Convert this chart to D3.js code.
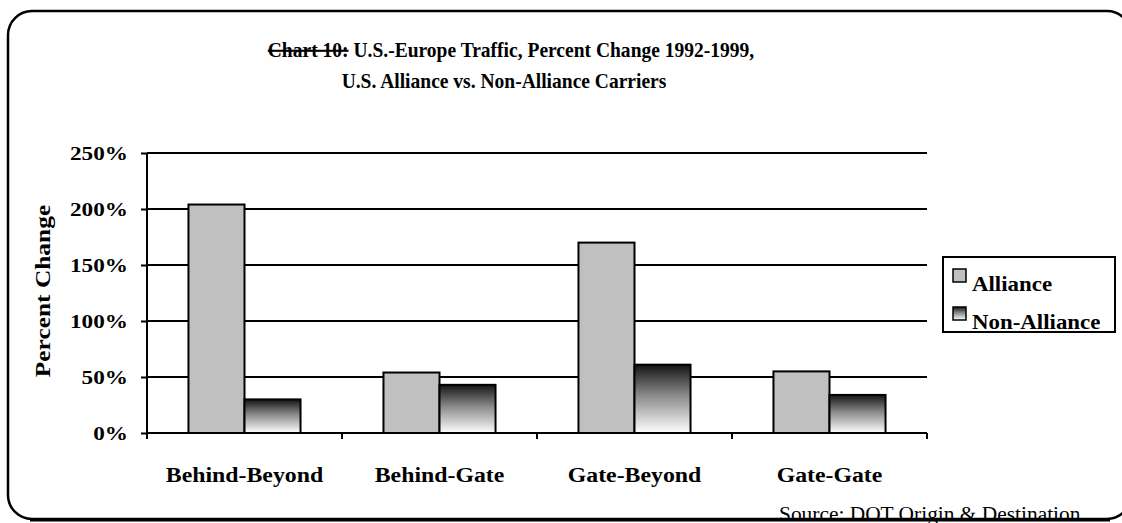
<!DOCTYPE html>
<html>
<head>
<meta charset="utf-8">
<script src="https://cdn.jsdelivr.net/npm/d3@7"></script>
<style>
  body { margin: 0; background: #fff; }
  svg { display: block; font-family: "Liberation Serif", "Times New Roman", serif; }
</style>
</head>
<body>
<svg id="chart" width="1122" height="523"></svg>
<script>
var categories = ['Behind-Beyond', 'Behind-Gate', 'Gate-Beyond', 'Gate-Gate'];
var seriesNames = ['Alliance', 'Non-Alliance'];
var alliance = [204, 54, 170, 55];
var nonAlliance = [30, 43, 61, 34];
var yTicks = [0, 50, 100, 150, 200, 250];

var svg = d3.select('#chart');
var plot = {left: 147, right: 927, top: 153, bottom: 433};

// text in the original is a little wider than plain Times, so stretch it
function label(x, y, str, size, sx, anchor, bold) {
    return svg.append('text')
        .attr('transform', 'translate(' + x + ',' + y + ') scale(' + sx + ',1)')
        .attr('text-anchor', anchor)
        .attr('font-size', size)
        .attr('font-weight', bold ? 'bold' : 'normal')
        .text(str);
}

// gradient for the non-alliance bars
var defs = svg.append('defs');
var grad = defs.append('linearGradient')
    .attr('id', 'dark')
    .attr('x1', 0).attr('y1', 0).attr('x2', 0).attr('y2', 1);
grad.append('stop').attr('offset', '0%').attr('stop-color', '#151515');
grad.append('stop').attr('offset', '45%').attr('stop-color', '#8a8a8a');
grad.append('stop').attr('offset', '100%').attr('stop-color', '#ffffff');

// outer rounded border
svg.append('rect')
    .attr('x', 8).attr('y', 11)
    .attr('width', 1123).attr('height', 508)
    .attr('rx', 24).attr('ry', 24)
    .attr('fill', 'none')
    .attr('stroke', '#000')
    .attr('stroke-width', 2.5);

// title
var title = svg.append('text')
    .attr('transform', 'translate(511,57) scale(0.93,1)')
    .attr('text-anchor', 'middle')
    .attr('font-weight', 'bold')
    .attr('font-size', 21);
title.append('tspan').attr('text-decoration', 'line-through').text('Chart 10:');
title.append('tspan').text(' U.S.-Europe Traffic, Percent Change 1992-1999,');
label(504, 88, 'U.S. Alliance vs. Non-Alliance Carriers', 21, 0.93, 'middle', true);

var x = d3.scaleBand().domain(categories).range([plot.left, plot.right]).padding(0);
var xs = d3.scaleBand().domain(seriesNames)
    .range([0, x.bandwidth()]).paddingOuter(0.74).paddingInner(0);
var y = d3.scaleLinear().domain([0, 250]).range([plot.bottom, plot.top]);

// gridlines
svg.append('g')
    .selectAll('line')
    .data(yTicks.slice(1))
    .enter().append('line')
    .attr('x1', plot.left).attr('x2', plot.right)
    .attr('y1', function(d) { return y(d); })
    .attr('y2', function(d) { return y(d); })
    .attr('stroke', '#000')
    .attr('stroke-width', 2);

// bars
var rows = categories.map(function(c, i) {
    return {cat: c, values: [
        {name: 'Alliance', v: alliance[i]},
        {name: 'Non-Alliance', v: nonAlliance[i]}
    ]};
});
var groups = svg.append('g').selectAll('g')
    .data(rows).enter().append('g')
    .attr('transform', function(d) { return 'translate(' + x(d.cat) + ',0)'; });
groups.selectAll('rect')
    .data(function(d) { return d.values; })
    .enter().append('rect')
    .attr('x', function(d) { return xs(d.name); })
    .attr('width', xs.bandwidth())
    .attr('y', function(d) { return y(d.v); })
    .attr('height', function(d) { return y(0) - y(d.v); })
    .attr('fill', function(d) { return d.name === 'Alliance' ? '#c0c0c0' : 'url(#dark)'; })
    .attr('stroke', '#000')
    .attr('stroke-width', 2);

// y axis
var yAxis = svg.append('g')
    .attr('transform', 'translate(' + plot.left + ',0)')
    .call(d3.axisLeft(y).tickValues(yTicks).tickSize(6)
        .tickFormat(function(d) { return d + '%'; }));
yAxis.select('.domain').attr('stroke-width', 2).attr('d', 'M0,' + plot.top + 'V' + plot.bottom);
yAxis.selectAll('.tick line').attr('stroke-width', 2);
yAxis.selectAll('.tick text')
    .attr('x', 0)
    .attr('dy', '0.34em')
    .attr('transform', 'translate(-19,0) scale(1.19,1)')
    .attr('font-family', '"Liberation Serif", serif')
    .attr('font-size', 19.5).attr('font-weight', 'bold').attr('fill', '#000');

// x axis
var xAxis = svg.append('g')
    .attr('transform', 'translate(0,' + plot.bottom + ')')
    .call(d3.axisBottom(x).tickSize(0));
xAxis.select('.domain').attr('stroke-width', 2).attr('d', 'M' + plot.left + ',0H' + plot.right);
xAxis.selectAll('.tick text')
    .attr('y', 0).attr('dy', 0)
    .attr('transform', 'translate(0,49) scale(1.15,1)')
    .attr('font-family', '"Liberation Serif", serif')
    .attr('font-size', 20.7).attr('font-weight', 'bold').attr('fill', '#000');
xAxis.selectAll('.sep')
    .data(categories.concat(['end']))
    .enter().append('line')
    .attr('class', 'sep')
    .attr('x1', function(d) { return d === 'end' ? plot.right : x(d); })
    .attr('x2', function(d) { return d === 'end' ? plot.right : x(d); })
    .attr('y1', 0).attr('y2', 6)
    .attr('stroke', '#000').attr('stroke-width', 2);

// y axis title
svg.append('text')
    .attr('transform', 'translate(50,291) rotate(-90) scale(1.21,1)')
    .attr('text-anchor', 'middle')
    .attr('font-weight', 'bold')
    .attr('font-size', 21)
    .text('Percent Change');

// legend
var legend = svg.append('g').attr('transform', 'translate(943,257)');
legend.append('rect')
    .attr('width', 172).attr('height', 75)
    .attr('fill', '#fff').attr('stroke', '#000').attr('stroke-width', 2);
var items = legend.selectAll('.item')
    .data(seriesNames).enter().append('g')
    .attr('class', 'item')
    .attr('transform', function(d, i) { return 'translate(10,' + (12 + i * 38) + ')'; });
items.append('rect')
    .attr('width', 13).attr('height', 13)
    .attr('fill', function(d) { return d === 'Alliance' ? '#c0c0c0' : 'url(#dark)'; })
    .attr('stroke', '#000').attr('stroke-width', 1.5);
items.append('text')
    .attr('transform', 'translate(19,22) scale(1.04,1)')
    .attr('font-weight', 'bold')
    .attr('font-size', 22)
    .text(function(d) { return d; });

// source note, partly hidden by the bottom border as in the original
label(779, 521, 'Source: DOT Origin & Destination', 20, 1.07, 'start', false);
svg.append('line')
    .attr('x1', 30).attr('x2', 1110)
    .attr('y1', 520).attr('y2', 520)
    .attr('stroke', '#000').attr('stroke-width', 3);
</script>
</body>
</html>
